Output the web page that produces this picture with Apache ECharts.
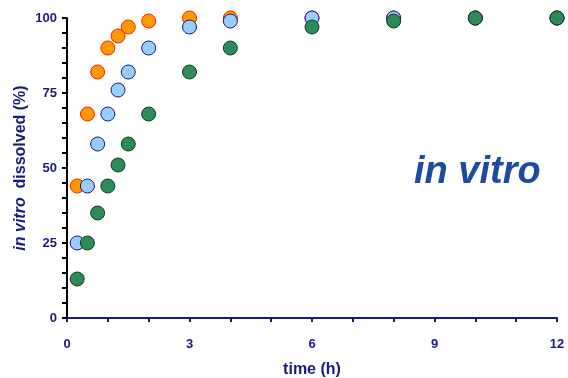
<!DOCTYPE html>
<html>
<head>
<meta charset="utf-8">
<script src="https://cdn.jsdelivr.net/npm/echarts@6/dist/echarts.min.js"></script>
<style>
  html, body { margin: 0; padding: 0; background: #fff; }
</style>
</head>
<body>
<div id="chart" style="width: 568px; height: 378px"></div>
<script>
// time points (h)
const timeH = [0.25, 0.5, 0.75, 1, 1.25, 1.5, 2, 3, 4, 6, 8, 10, 12];
// % dissolved for each formulation
const fastData = [44, 68, 82, 90, 94, 97, 99, 100, 100, 100, 100, 100, 100];
const mediumData = [25, 44, 58, 68, 76, 82, 90, 97, 99, 100, 100, 100, 100];
const slowData = [13, 25, 35, 44, 51, 58, 68, 82, 90, 97, 99, 100, 100];
const xTicks = [0, 3, 6, 9, 12];
const yTicks = [0, 25, 50, 75, 100];

const pairs = (vals) => timeH.map((t, i) => [t, vals[i]]);

const chart = echarts.init(document.getElementById("chart"));
const navy = "#1a1a80";
const labelFont = { color: navy, fontWeight: "bold", fontFamily: "Liberation Sans, Arial, sans-serif" };

const option = {
  animation: false,
  grid: { left: 67, right: 11, top: 18, bottom: 60, outerBoundsMode: "none", containLabel: false },
  xAxis: {
    type: "value",
    min: xTicks[0],
    max: xTicks[xTicks.length - 1],
    interval: 3,
    name: "time (h)",
    nameLocation: "middle",
    nameGap: 44,
    nameMoveOverlap: false,
    nameTextStyle: Object.assign({ fontSize: 16 }, labelFont),
    axisLine: { lineStyle: { color: navy, width: 2 } },
    axisTick: { length: 4, lineStyle: { color: navy, width: 2 } },
    minorTick: { show: true, splitNumber: 3, length: 4, lineStyle: { color: navy, width: 2 } },
    axisLabel: Object.assign({ fontSize: 13, margin: 20 }, labelFont),
    splitLine: { show: false },
  },
  yAxis: {
    type: "value",
    min: yTicks[0],
    max: yTicks[yTicks.length - 1],
    interval: 25,
    name: "{i|in vitro}  dissolved (%)",
    nameLocation: "middle",
    nameGap: 38,
    nameMoveOverlap: false,
    nameRotate: 90,
    nameTextStyle: Object.assign({
      fontSize: 16,
      rich: { i: Object.assign({ fontSize: 16, fontStyle: "italic" }, labelFont) },
    }, labelFont),
    axisLine: { lineStyle: { color: "#000", width: 2 } },
    axisTick: { length: 5, lineStyle: { color: "#000", width: 2 } },
    minorTick: { show: true, splitNumber: 5, length: 5, lineStyle: { color: "#000", width: 2 } },
    axisLabel: Object.assign({ fontSize: 13, margin: 10 }, labelFont),
    splitLine: { show: false },
  },
  graphic: [
    {
      type: "text",
      left: 414,
      top: 154,
      style: {
        text: "in vitro",
        fontSize: 38,
        fontWeight: "bold",
        fontStyle: "italic",
        fontFamily: "Liberation Sans, Arial, sans-serif",
        fill: "#1c4ba0",
      },
    },
  ],
  series: [
    {
      type: "scatter",
      symbolSize: 14,
      itemStyle: { color: "#ff9900", borderColor: "#ff1a00", borderWidth: 1, opacity: 1 },
      data: pairs(fastData),
    },
    {
      type: "scatter",
      symbolSize: 14,
      itemStyle: { color: "#99ccff", borderColor: "#101880", borderWidth: 1, opacity: 1 },
      data: pairs(mediumData),
    },
    {
      type: "scatter",
      symbolSize: 14,
      itemStyle: { color: "#2e8b57", borderColor: "#103a20", borderWidth: 1, opacity: 1 },
      data: pairs(slowData),
    },
  ],
};
chart.setOption(option);
</script>
</body>
</html>
